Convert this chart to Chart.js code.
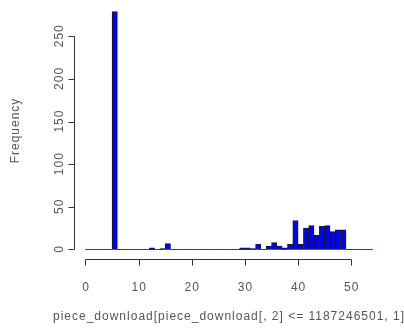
<!DOCTYPE html>
<html>
<head>
<meta charset="utf-8">
<script src="https://cdn.jsdelivr.net/npm/chart.js@4/dist/chart.umd.min.js"></script>
<style>
  html, body { margin: 0; padding: 0; background: #fff; }
  canvas { display: block; }
</style>
</head>
<body>
<canvas id="histChart" width="404" height="329"></canvas>
<script>
// Histogram bins (left edge of each bin, width 1) and counts
const binStarts = [0, 1, 2, 3, 4, 5, 6, 7, 8, 9, 10, 11, 12, 13, 14, 15, 16, 17, 18, 19,
                   20, 21, 22, 23, 24, 25, 26, 27, 28, 29, 30, 31, 32, 33, 34, 35, 36, 37, 38, 39,
                   40, 41, 42, 43, 44, 45, 46, 47, 48, 49, 50, 51, 52, 53];
const counts = [0, 0, 0, 0, 0, 279, 0, 0, 0, 0, 0, 0, 2, 0, 1, 7, 0, 0, 0, 0,
                0, 0, 0, 0, 0, 0, 0, 0, 0, 2, 2, 1, 6, 0, 4, 8, 4, 2, 6, 34,
                6, 25, 28, 17, 27, 28, 21, 23, 23, 0, 0, 0, 0, 0];
const xTicks = [0, 10, 20, 30, 40, 50];
const yTicks = [0, 50, 100, 150, 200, 250];
const xTitle = 'piece_download[piece_download[, 2] <= 1187246501, 1]';
const yTitle = 'Frequency';

const FONT = "12px 'Liberation Sans', Arial, sans-serif";
const TEXT = '#555';
const AXIS = '#333';

// R style axes: drawn by hand from the chart's own scales
const rAxes = {
    id: 'rAxes',
    beforeDatasetsDraw(chart) {
        const c = chart.ctx, x = chart.scales.x, y = chart.scales.y;
        // zero-height bins show up as a thin baseline
        c.save();
        c.strokeStyle = '#888';
        c.lineWidth = 1;
        c.beginPath();
        c.moveTo(x.getPixelForValue(binStarts[0]), Math.round(y.getPixelForValue(0)) + 0.5);
        c.lineTo(x.getPixelForValue(binStarts[binStarts.length - 1] + 1), Math.round(y.getPixelForValue(0)) + 0.5);
        c.stroke();
        c.restore();
    },
    afterDraw(chart) {
        const c = chart.ctx, x = chart.scales.x, y = chart.scales.y, area = chart.chartArea;
        c.save();
        c.strokeStyle = AXIS;
        c.lineWidth = 1;
        c.font = FONT;
        c.fillStyle = TEXT;
        c.letterSpacing = '1px';

        // x axis
        const ax = Math.round(area.bottom) + 0.5;
        c.beginPath();
        c.moveTo(x.getPixelForValue(xTicks[0]), ax);
        c.lineTo(x.getPixelForValue(xTicks[xTicks.length - 1]), ax);
        xTicks.forEach(t => {
            const px = Math.round(x.getPixelForValue(t)) + 0.5;
            c.moveTo(px, ax);
            c.lineTo(px, ax + 6);
        });
        c.stroke();
        c.textAlign = 'center';
        c.textBaseline = 'middle';
        xTicks.forEach(t => c.fillText(String(t), x.getPixelForValue(t) + 0.5, ax + 28));
        c.fillText(xTitle, (area.left + area.right) / 2, ax + 57);

        // y axis
        const ay = Math.round(area.left) + 0.5;
        c.beginPath();
        c.moveTo(ay, y.getPixelForValue(yTicks[0]));
        c.lineTo(ay, y.getPixelForValue(yTicks[yTicks.length - 1]));
        yTicks.forEach(t => {
            const py = Math.round(y.getPixelForValue(t)) + 0.5;
            c.moveTo(ay, py);
            c.lineTo(ay - 6, py);
        });
        c.stroke();
        yTicks.forEach(t => {
            c.save();
            c.translate(ay - 15, y.getPixelForValue(t) - 0.5);
            c.rotate(-Math.PI / 2);
            c.fillText(String(t), 0, 0);
            c.restore();
        });
        c.save();
        c.translate(16, (area.top + area.bottom) / 2);
        c.rotate(-Math.PI / 2);
        c.fillText(yTitle, 0, 0);
        c.restore();
        c.restore();
    }
};

const ctx = document.getElementById('histChart').getContext('2d');
new Chart(ctx, {
    type: 'bar',
    data: {
        datasets: [{
            data: binStarts.map((b, i) => ({ x: b + 0.5, y: counts[i] })),
            backgroundColor: '#0000ff',
            borderColor: '#1a1a1a',
            borderWidth: c => (c.raw && c.raw.y > 0 ? 1 : 0),
            barPercentage: 1,
            categoryPercentage: 1
        }]
    },
    options: {
        responsive: false,
        animation: false,
        layout: { padding: { left: 74, right: 20, top: 2, bottom: 70 } },
        plugins: { legend: { display: false }, tooltip: { enabled: false } },
        scales: {
            x: { type: 'linear', display: false, offset: false, min: -2.16, max: 56.16 },
            y: { display: false, min: -11.16, max: 290.16 }
        }
    },
    plugins: [rAxes]
});
</script>
</body>
</html>
